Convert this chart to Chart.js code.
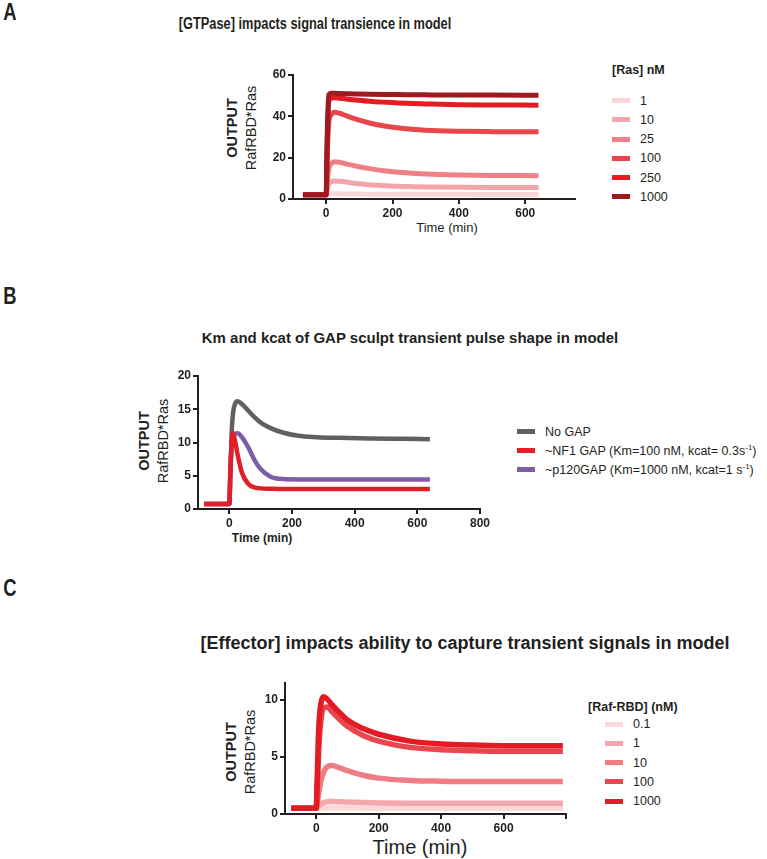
<!DOCTYPE html>
<html lang="en">
<head>
<meta charset="UTF-8">
<title>Model output: GTPase, GAP and effector</title>
<script src="https://cdn.jsdelivr.net/npm/chart.js"></script>
<style>
    body { margin: 0; background: #ffffff; }
    #page {
        position: relative; width: 767px; height: 859px; overflow: hidden;
        font-family: "Liberation Sans", Arial, sans-serif; color: #231f20;
    }
    .abs { position: absolute; white-space: nowrap; }
    .ctr { transform: translate(-50%, -50%); }
    .narrow { transform: translate(-50%, -50%) scaleX(0.8); }
    .panel { font-weight: bold; font-size: 23px; }
    .title { font-weight: bold; }
    .ytitle { transform: translate(-50%, -50%) rotate(-90deg); text-align: center; font-size: 14.5px; line-height: 19px; }
    .ytitle b { display: block; }
    .row { position: absolute; height: 18px; display: flex; align-items: center; font-size: 12.5px; white-space: nowrap; }
    .sw { display: inline-block; width: 18px; height: 5px; }
    sup { font-size: 8px; }
    canvas { position: absolute; }
</style>
</head>
<body>
<div id="page">
    <div class="abs narrow panel" style="left:10px; top:12px;">A</div>
    <div class="abs narrow title" style="left:315px; top:24px; font-size:16px;">[GTPase] impacts signal transience in model</div>
    <div class="abs ytitle" style="left:242px; top:128px;"><b>OUTPUT</b>RafRBD*Ras</div>
    <div class="abs ctr" style="left:447px; top:227px; font-size:13px;">Time (min)</div>
    <div class="abs title" style="left:612px; top:63px; font-size:12.5px;">[Ras] nM</div>
    <canvas id="chartA" width="340" height="180" style="left:250px; top:60px;"></canvas>
    <div id="legA"></div>

    <div class="abs narrow panel" style="left:10px; top:296px;">B</div>
    <div class="abs ctr title" style="left:410px; top:337px; font-size:15px;">Km and kcat of GAP sculpt transient pulse shape in model</div>
    <div class="abs ytitle" style="left:154px; top:441px;"><b>OUTPUT</b>RafRBD*Ras</div>
    <div class="abs ctr title" style="left:262px; top:538px; font-size:12px;">Time (min)</div>
    <canvas id="chartB" width="345" height="185" style="left:150px; top:360px;"></canvas>
    <div id="legB"></div>

    <div class="abs narrow panel" style="left:10px; top:588px;">C</div>
    <div class="abs ctr title" style="left:465px; top:643px; font-size:18px;">[Effector] impacts ability to capture transient signals in model</div>
    <div class="abs ytitle" style="left:241px; top:752px;"><b>OUTPUT</b>RafRBD*Ras</div>
    <div class="abs ctr" style="left:420px; top:847px; font-size:20px;">Time (min)</div>
    <div class="abs title" style="left:588px; top:700px; font-size:12.5px;">[Raf-RBD] (nM)</div>
    <canvas id="chartC" width="345" height="175" style="left:235px; top:665px;"></canvas>
    <div id="legC"></div>
</div>

<script>
    // ---- Panel A: [Ras] series ----
    const timeA = [-70, 0, 3, 8, 15, 25, 40, 60, 90, 130, 180, 240, 300, 400, 500, 640];
    const rasLabels = ['1', '10', '25', '100', '250', '1000'];
    const ras1    = [2, 2, 2.2, 2.4, 2.5, 2.5, 2.5, 2.45, 2.4, 2.35, 2.3, 2.3, 2.25, 2.25, 2.2, 2.2];
    const ras10   = [2, 2, 4.5, 7.2, 8.3, 8.7, 8.6, 8.2, 7.5, 6.9, 6.4, 6.0, 5.8, 5.65, 5.6, 5.6];
    const ras25   = [2, 2, 8, 14.5, 17, 18, 17.8, 17, 15.9, 14.7, 13.6, 12.7, 12.1, 11.6, 11.4, 11.3];
    const ras100  = [2, 2, 20, 37, 40.8, 42, 41.5, 40.3, 38.6, 36.8, 35.2, 34, 33.3, 32.8, 32.6, 32.5];
    const ras250  = [2, 2, 26, 47.5, 48.8, 49, 48.8, 48.4, 47.9, 47.3, 46.8, 46.3, 46, 45.6, 45.5, 45.4];
    const ras1000 = [2, 2, 30, 50.5, 51.2, 51.2, 51, 50.9, 50.8, 50.7, 50.6, 50.5, 50.4, 50.3, 50.3, 50.2];
    const xTicksA = [0, 200, 400, 600];
    const yTicksA = [0, 20, 40, 60];

    // ---- Panel B: GAP variants ----
    const timeB = [-80, 0, 3, 8, 12, 18, 26, 40, 60, 80, 100, 130, 170, 220, 280, 350, 450, 550, 640];
    const gapLabels = ['No GAP', '~NF1 GAP (Km=100 nM, kcat= 0.3s<sup>-1</sup>)', '~p120GAP (Km=1000 nM, kcat=1 s<sup>-1</sup>)'];
    const noGap  = [0.75, 0.75, 5, 12, 14.5, 15.8, 16.2, 15.8, 14.8, 13.8, 13.0, 12.2, 11.5, 11.0, 10.8, 10.7, 10.6, 10.55, 10.5];
    const nf1Gap = [0.75, 0.75, 5, 10.5, 11.4, 10.3, 8.3, 5.5, 3.8, 3.25, 3.1, 3.05, 3.0, 3.0, 3.0, 3.0, 3.0, 3.0, 3.0];
    const p120Gap = [0.75, 0.75, 5, 10, 11, 11.3, 11.4, 10.8, 9.3, 7.4, 6.0, 4.9, 4.5, 4.45, 4.45, 4.45, 4.45, 4.45, 4.45];
    const xTicksB = [0, 200, 400, 600, 800];
    const yTicksB = [0, 5, 10, 15, 20];

    // ---- Panel C: [Raf-RBD] series ----
    const timeC = [-80, 0, 3, 8, 15, 24, 35, 50, 75, 100, 150, 200, 300, 400, 500, 600, 700, 790];
    const rafLabels = ['0.1', '1', '10', '100', '1000'];
    const raf01   = [0.5, 0.5, 0.5, 0.5, 0.5, 0.52, 0.53, 0.53, 0.53, 0.52, 0.52, 0.51, 0.5, 0.5, 0.5, 0.5, 0.5, 0.5];
    const raf1    = [0.5, 0.5, 0.55, 0.7, 0.85, 1.0, 1.07, 1.1, 1.08, 1.05, 1.0, 0.97, 0.95, 0.95, 0.95, 0.95, 0.95, 0.95];
    const raf10   = [0.5, 0.5, 0.8, 1.8, 2.9, 3.7, 4.15, 4.25, 4.05, 3.8, 3.4, 3.15, 2.95, 2.88, 2.85, 2.85, 2.85, 2.85];
    const raf100  = [0.5, 0.5, 2, 5.5, 8.2, 9.3, 9.4, 9.0, 8.3, 7.7, 6.9, 6.4, 5.85, 5.65, 5.55, 5.5, 5.5, 5.5];
    const raf1000 = [0.5, 0.5, 3, 7.5, 9.7, 10.3, 10.1, 9.6, 8.9, 8.25, 7.5, 7.0, 6.4, 6.15, 6.05, 6.0, 6.0, 6.0];
    const xTicksC = [0, 200, 400, 600, 800];
    const xLabelsC = [0, 200, 400, 600];
    const yTicksC = [0, 5, 10];

    // colours
    const colorsA = ['#f8d6d9', '#f4a5a9', '#ef8086', '#e8454d', '#e31b23', '#9b1b20'];
    const colorsB = ['#606060', '#e31e26', '#7b5ea6'];
    const colorsC = ['#f9d8db', '#f4a8ac', '#ef7e84', '#e9474f', '#e31b23'];

    const ink = '#231f20';
    const tickFont = { family: "'Liberation Sans', Arial, sans-serif", size: 12, weight: 'bold' };

    function makeChart(id, times, series, labels, colors, cfg) {
        const n = series.length;
        const datasets = series.map((vals, i) => ({
            label: labels[i],
            data: times.map((t, k) => ({ x: t, y: vals[k] })),
            borderColor: colors[i],
            borderWidth: cfg.lineWidth,
            pointRadius: 0,
            fill: false,
            cubicInterpolationMode: 'monotone',
            order: cfg.order ? cfg.order[i] : n - i
        }));
        const axisGrid = { drawOnChartArea: false, drawTicks: true, tickLength: 5, color: ink, lineWidth: 2 };
        return new Chart(document.getElementById(id), {
            type: 'line',
            data: { datasets: datasets },
            options: {
                responsive: false,
                animation: false,
                layout: { padding: cfg.padding },
                plugins: { legend: { display: false }, tooltip: { enabled: false } },
                scales: {
                    x: {
                        type: 'linear', min: cfg.xMin, max: cfg.xMax,
                        afterBuildTicks: s => { s.ticks = cfg.xTicks.map(v => ({ value: v })); },
                        afterFit: s => { s.height = cfg.xHeight; },
                        ticks: {
                            font: tickFont, color: ink, padding: 2, maxRotation: 0, autoSkip: false,
                            callback: v => (cfg.xLabels || cfg.xTicks).includes(v) ? String(v) : ''
                        },
                        grid: axisGrid,
                        border: { color: ink, width: 2 }
                    },
                    y: {
                        type: 'linear', min: 0, max: cfg.yMax,
                        afterBuildTicks: s => { s.ticks = cfg.yTicks.map(v => ({ value: v })); },
                        afterFit: s => { s.width = cfg.yWidth; },
                        ticks: { font: tickFont, color: ink, padding: 2 },
                        grid: axisGrid,
                        border: { color: ink, width: 2 }
                    }
                }
            }
        });
    }

    function makeLegend(id, x, y0, step, textGap, labels, colors) {
        const box = document.getElementById(id);
        labels.forEach((lab, i) => {
            const row = document.createElement('div');
            row.className = 'row';
            row.style.left = x + 'px';
            row.style.top = (y0 + i * step - 9) + 'px';
            row.innerHTML = '<span class="sw" style="background:' + colors[i] + '; margin-right:' + textGap + 'px"></span><span>' + lab + '</span>';
            box.appendChild(row);
        });
    }

    makeChart('chartA', timeA, [ras1, ras10, ras25, ras100, ras250, ras1000], rasLabels, colorsA, {
        xMin: -100, xMax: 750, yMax: 60, xTicks: xTicksA, yTicks: yTicksA,
        padding: { left: 0, top: 15, right: 15, bottom: 0 }, yWidth: 43, xHeight: 41, lineWidth: 5
    });
    makeChart('chartB', timeB, [noGap, nf1Gap, p120Gap], gapLabels, colorsB, {
        xMin: -100, xMax: 800, yMax: 20, xTicks: xTicksB, yTicks: yTicksB,
        padding: { left: 0, top: 16, right: 15, bottom: 0 }, yWidth: 48, xHeight: 36, lineWidth: 4.5,
        order: [3, 1, 2]
    });
    makeChart('chartC', timeC, [raf01, raf1, raf10, raf100, raf1000], rafLabels, colorsC, {
        xMin: -100, xMax: 800, yMax: 11.5, xTicks: xTicksC, xLabels: xLabelsC, yTicks: yTicksC,
        padding: { left: 0, top: 18, right: 14, bottom: 0 }, yWidth: 50, xHeight: 26, lineWidth: 5.5
    });

    makeLegend('legA', 612, 100.7, 19.2, 10, rasLabels, colorsA);
    makeLegend('legB', 517, 431.5, 19, 10, gapLabels, colorsB);
    makeLegend('legC', 605, 724, 19.3, 10, rafLabels, colorsC);
</script>
</body>
</html>
